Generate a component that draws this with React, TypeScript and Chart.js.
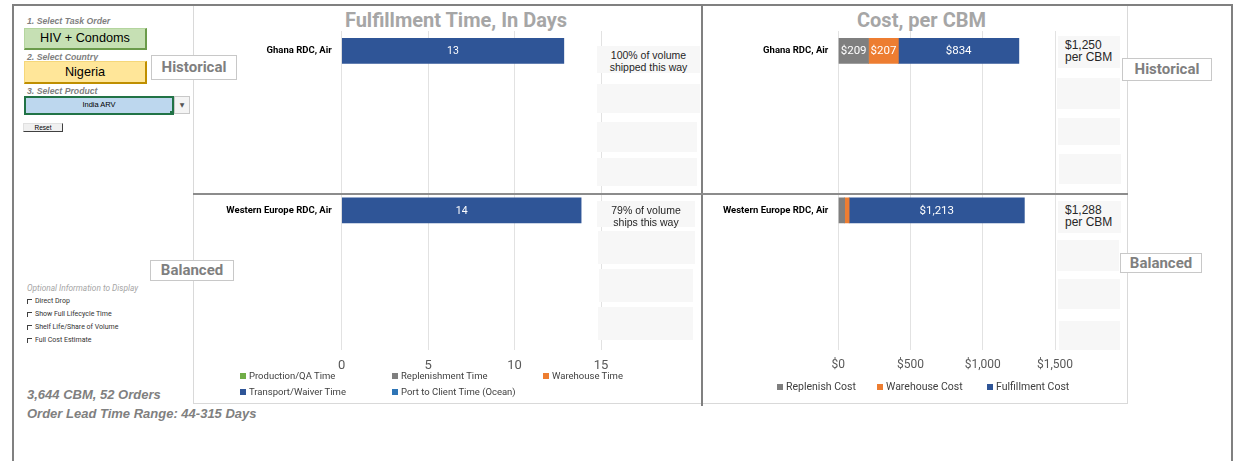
import React, { useEffect, useRef } from "react";
import { Chart, registerables } from "chart.js";

Chart.register(...registerables);

// ---------- DATA ----------
const routeCategories = ["Ghana RDC, Air", "", "", "", "Western Europe RDC, Air", "", "", ""];

const timeProduction = [null, null, null, null, null, null, null, null];
const timeReplenishment = [null, null, null, null, null, null, null, null];
const timeWarehouse = [null, null, null, null, null, null, null, null];
const timeTransport = [12.85, null, null, null, 13.85, null, null, null];
const timePortToClient = [null, null, null, null, null, null, null, null];

const costReplenish = [209, null, null, null, 44, null, null, null];
const costWarehouse = [207, null, null, null, 31, null, null, null];
const costFulfillment = [834, null, null, null, 1213, null, null, null];

const timeTicks = [0, 5, 10, 15];
const costTicks = [0, 500, 1000, 1500];

const timeSeriesNames = ["Production/QA Time", "Replenishment Time", "Warehouse Time", "Transport/Waiver Time", "Port to Client Time (Ocean)"];
const costSeriesNames = ["Replenish Cost", "Warehouse Cost", "Fulfillment Cost"];

const volumeNotes = ["100% of volume\nshipped this way", "79% of volume\nships this way"];
const costNotes = ["$1,250\nper CBM", "$1,288\nper CBM"];

const COLORS = {
  green: "#70ad47",
  gray: "#7f7f7f",
  orange: "#ed7d31",
  navy: "#2f5597",
  blue: "#2e75b6",
};

const fmtMoney = (v: number) => "$" + Math.round(v).toLocaleString("en-US");

function makeSegLabelPlugin(fmt: (v: number) => string, size: number) {
  return {
    id: "segLabels",
    afterDatasetsDraw(chart: any) {
      const ctx = chart.ctx;
      ctx.save();
      ctx.fillStyle = "#ffffff";
      ctx.font = size + "px Roboto";
      ctx.textAlign = "center";
      ctx.textBaseline = "middle";
      chart.data.datasets.forEach((ds: any, i: number) => {
        const meta = chart.getDatasetMeta(i);
        meta.data.forEach((el: any, j: number) => {
          const v = ds.data[j];
          if (!v) return;
          const p = el.getProps(["x", "y", "base"], true);
          const w = Math.abs(p.x - p.base);
          if (w < 25) return;
          ctx.fillText(fmt(v), (p.x + p.base) / 2, p.y + 0.5);
        });
      });
      ctx.restore();
    },
  };
}

function baseOptions(max: number, step: number, yWidth: number, padRight: number, tickSize: number, tickCb: (v: any) => string) {
  return {
    indexAxis: "y" as const,
    responsive: false,
    animation: false as const,
    layout: { padding: { top: 31, right: padRight, left: 0, bottom: 0 } },
    plugins: { legend: { display: false }, tooltip: { enabled: false }, title: { display: false } },
    datasets: { bar: { barThickness: 25 } },
    scales: {
      x: {
        stacked: true,
        min: 0,
        max,
        ticks: { stepSize: step, padding: 8, color: "#595959", font: { family: "Roboto", size: tickSize }, callback: tickCb, maxRotation: 0 },
        grid: { color: "#e2e2e2", drawTicks: false, lineWidth: 1 },
        border: { display: false },
        afterFit: (s: any) => {
          s.height = 30;
          s.paddingLeft = 0;
          s.paddingRight = 0;
        },
      },
      y: {
        stacked: true,
        ticks: { autoSkip: false, padding: 10, color: "#000000", font: { family: "Roboto", size: 9.5, weight: "bold" as const } },
        grid: { display: false, drawTicks: false },
        border: { display: false },
        afterFit: (s: any) => {
          s.width = yWidth;
          s.paddingTop = 0;
          s.paddingBottom = 0;
        },
      },
    },
  };
}

function TimeChart() {
  const ref = useRef<HTMLCanvasElement>(null);
  useEffect(() => {
    const series = [timeProduction, timeReplenishment, timeWarehouse, timeTransport, timePortToClient];
    const cols = [COLORS.green, COLORS.gray, COLORS.orange, COLORS.navy, COLORS.blue];
    const chart = new Chart(ref.current!, {
      type: "bar",
      data: {
        labels: routeCategories,
        datasets: series.map((d, i) => ({ label: timeSeriesNames[i], data: d as any, backgroundColor: cols[i], borderWidth: 0 })),
      },
      options: baseOptions(15, 5, 148.7, 25, 13, (v: any) => (timeTicks.includes(Number(v)) ? String(v) : "")) as any,
      plugins: [makeSegLabelPlugin((v) => String(Math.round(v)), 10.5)],
    });
    return () => chart.destroy();
  }, []);
  return <canvas ref={ref} width={433} height={380} style={{ position: "absolute", left: 193, top: 0, width: 433, height: 380 }} />;
}

function CostChart() {
  const ref = useRef<HTMLCanvasElement>(null);
  useEffect(() => {
    const series = [costReplenish, costWarehouse, costFulfillment];
    const cols = [COLORS.gray, COLORS.orange, COLORS.navy];
    const chart = new Chart(ref.current!, {
      type: "bar",
      data: {
        labels: routeCategories,
        datasets: series.map((d, i) => ({ label: costSeriesNames[i], data: d as any, backgroundColor: cols[i], borderWidth: 0 })),
      },
      options: baseOptions(1500, 500, 135.3, 30, 12, (v: any) => (costTicks.includes(Number(v)) ? fmtMoney(Number(v)) : "")) as any,
      plugins: [makeSegLabelPlugin(fmtMoney, 11.5)],
    });
    return () => chart.destroy();
  }, []);
  return <canvas ref={ref} width={382} height={380} style={{ position: "absolute", left: 703, top: 0, width: 382, height: 380 }} />;
}

const abs = (l: number, t: number, w: number, h: number, extra: React.CSSProperties = {}): React.CSSProperties => ({
  position: "absolute",
  left: l,
  top: t,
  width: w,
  height: h,
  boxSizing: "border-box",
  ...extra,
});

function NoteBox({ l, t, w, h, text, align = "center", size = 10.5 }: any) {
  return (
    <div
      style={abs(l, t, w, h, {
        background: "#f7f7f7",
        fontFamily: "'Liberation Sans', Arial",
        fontSize: size,
        color: "#262626",
        textAlign: align,
        whiteSpace: "pre-line",
        lineHeight: "12px",
        paddingTop: 3,
        paddingLeft: align === "left" ? 7 : 0,
        zIndex: 2,
      })}
    >
      {text}
    </div>
  );
}

function Tag({ l, t, w, h, text }: any) {
  return (
    <div
      style={abs(l, t, w, h, {
        background: "#fff",
        border: "1px solid #c8c8c8",
        fontFamily: "Roboto",
        fontWeight: 700,
        fontSize: 15,
        color: "#7f7f7f",
        textAlign: "center",
        lineHeight: h - 2 + "px",
        zIndex: 3,
      })}
    >
      {text}
    </div>
  );
}

function LegendItem({ l, t, color, text, size }: any) {
  return (
    <div style={{ position: "absolute", left: l, top: t, display: "flex", alignItems: "center", whiteSpace: "nowrap", zIndex: 2 }}>
      <span style={{ display: "inline-block", width: 6, height: 6, background: color, marginRight: 3 }} />
      <span style={{ fontFamily: "Roboto", fontSize: size, color: "#404040", lineHeight: "12px" }}>{text}</span>
    </div>
  );
}

const stepLabel: React.CSSProperties = {
  fontFamily: "'Liberation Sans', Arial",
  fontStyle: "italic",
  fontWeight: 700,
  fontSize: 8.7,
  color: "#7f7f7f",
  whiteSpace: "nowrap",
};

function Checkbox({ t, text }: any) {
  return (
    <div style={{ position: "absolute", left: 27, top: t, display: "flex", alignItems: "center", whiteSpace: "nowrap" }}>
      <span style={{ display: "inline-block", width: 4, height: 4, borderTop: "1px solid #404040", borderLeft: "1px solid #404040", marginRight: 3 }} />
      <span style={{ fontFamily: "Roboto", fontSize: 7, color: "#333333" }}>{text}</span>
    </div>
  );
}

export default function App() {
  return (
    <div style={{ position: "absolute", left: 0, top: 0, width: 1234, height: 461, background: "#fff", overflow: "hidden" }}>
      {/* outer frame */}
      <div style={abs(12, 4, 1221, 2, { background: "#808080" })} />
      <div style={abs(12, 4, 2, 457, { background: "#808080" })} />
      <div style={abs(1231, 4, 2, 457, { background: "#808080" })} />

      {/* chart boxes */}
      <div style={abs(193, 6, 1, 398, { background: "#d9d9d9" })} />
      <div style={abs(193, 403, 509, 1, { background: "#d9d9d9" })} />
      <div style={abs(1127, 6, 1, 398, { background: "#d9d9d9" })} />
      <div style={abs(702, 403, 426, 1, { background: "#d9d9d9" })} />

      {/* titles */}
      <div style={abs(300, 7, 312, 26, { fontFamily: "Roboto", fontWeight: 700, fontSize: 20, color: "#a6a6a6", textAlign: "center", lineHeight: "26px" })}>
        Fulfillment Time, In Days
      </div>
      <div style={abs(820, 7, 203, 26, { fontFamily: "Roboto", fontWeight: 700, fontSize: 20, color: "#a6a6a6", textAlign: "center", lineHeight: "26px" })}>
        Cost, per CBM
      </div>

      <TimeChart />
      <CostChart />

      {/* dividers */}
      <div style={abs(701, 4, 2, 402, { background: "#808080", zIndex: 4 })} />
      <div style={abs(193, 193, 935, 2, { background: "#8c8c8c", zIndex: 4 })} />

      {/* fulfillment notes */}
      <NoteBox l={597} t={46} w={103} h={27} text={volumeNotes[0]} />
      <NoteBox l={597} t={84} w={103} h={29} text="" />
      <NoteBox l={597} t={122} w={100} h={30} text="" />
      <NoteBox l={597} t={158} w={100} h={28} text="" />
      <NoteBox l={597} t={201} w={98} h={26} text={volumeNotes[1]} />
      <NoteBox l={598} t={231} w={97} h={33} text="" />
      <NoteBox l={599} t={269} w={94} h={33} text="" />
      <NoteBox l={598} t={307} w={95} h={33} text="" />

      {/* cost notes */}
      <NoteBox l={1058} t={36} w={62} h={32} text={costNotes[0]} align="left" size={12} />
      <NoteBox l={1057} t={78} w={63} h={31} text="" />
      <NoteBox l={1058} t={118} w={62} h={27} text="" />
      <NoteBox l={1059} t={154} w={62} h={30} text="" />
      <NoteBox l={1058} t={201} w={63} h={32} text={costNotes[1]} align="left" size={12} />
      <NoteBox l={1057} t={240} w={62} h={31} text="" />
      <NoteBox l={1058} t={279} w={62} h={30} text="" />
      <NoteBox l={1059} t={321} w={61} h={29} text="" />

      {/* tags */}
      <Tag l={151} t={55} w={86} h={25} text="Historical" />
      <Tag l={150} t={260} w={84} h={21} text="Balanced" />
      <Tag l={1122} t={58} w={90} h={23} text="Historical" />
      <Tag l={1120} t={253} w={82} h={20} text="Balanced" />

      {/* legends */}
      <LegendItem l={240} t={370} color={COLORS.green} text={timeSeriesNames[0]} size={9.5} />
      <LegendItem l={392} t={370} color={COLORS.gray} text={timeSeriesNames[1]} size={9.5} />
      <LegendItem l={543} t={370} color={COLORS.orange} text={timeSeriesNames[2]} size={9.5} />
      <LegendItem l={240} t={386} color={COLORS.navy} text={timeSeriesNames[3]} size={9.5} />
      <LegendItem l={392} t={386} color={COLORS.blue} text={timeSeriesNames[4]} size={9.5} />

      <LegendItem l={777} t={381} color={COLORS.gray} text={costSeriesNames[0]} size={10.5} />
      <LegendItem l={877} t={381} color={COLORS.orange} text={costSeriesNames[1]} size={10.5} />
      <LegendItem l={987} t={381} color={COLORS.navy} text={costSeriesNames[2]} size={10.5} />

      {/* left control panel */}
      <div style={{ ...stepLabel, position: "absolute", left: 27, top: 16 }}>1. Select Task Order</div>
      <div
        style={abs(24, 28, 123, 22, {
          background: "#c6e0b4",
          borderTop: "1px solid #b4d59e",
          borderLeft: "1px solid #b4d59e",
          borderRight: "2px solid #6b9b4b",
          borderBottom: "2px solid #6b9b4b",
          fontFamily: "'Liberation Sans', Arial",
          fontSize: 12.7,
          textAlign: "center",
          lineHeight: "19px",
          color: "#000",
        })}
      >
        HIV + Condoms
      </div>
      <div style={{ ...stepLabel, position: "absolute", left: 27, top: 52 }}>2. Select Country</div>
      <div
        style={abs(24, 61, 123, 23, {
          background: "#ffe699",
          borderTop: "1px solid #f5d77a",
          borderLeft: "1px solid #f5d77a",
          borderRight: "2px solid #bf8f00",
          borderBottom: "2px solid #bf8f00",
          fontFamily: "'Liberation Sans', Arial",
          fontSize: 12.7,
          textAlign: "center",
          lineHeight: "21px",
          color: "#000",
        })}
      >
        Nigeria
      </div>
      <div style={{ ...stepLabel, position: "absolute", left: 27, top: 86 }}>3. Select Product</div>
      <div
        style={abs(24, 96, 150, 19, {
          background: "#bdd7ee",
          border: "2px solid #217346",
          fontFamily: "'Liberation Sans', Arial",
          fontSize: 7.5,
          textAlign: "center",
          lineHeight: "14px",
          color: "#000",
        })}
      >
        India ARV
      </div>
      <div style={abs(170, 111, 4, 4, { background: "#217346" })} />
      <div
        style={abs(174, 96, 16, 18, {
          background: "#f4f4f4",
          border: "1px solid #c8c8c8",
          fontSize: 6,
          color: "#555",
          textAlign: "center",
          lineHeight: "16px",
          fontFamily: "'DejaVu Sans'",
        })}
      >
        ▼
      </div>
      <div
        style={abs(23, 123, 40, 9, {
          background: "#f0f0f0",
          borderTop: "1px solid #e0e0e0",
          borderLeft: "1px solid #e0e0e0",
          borderRight: "1px solid #404040",
          borderBottom: "1px solid #404040",
          fontFamily: "'Liberation Sans', Arial",
          fontSize: 6.5,
          textAlign: "center",
          lineHeight: "7px",
          color: "#000",
        })}
      >
        Reset
      </div>

      <div style={{ position: "absolute", left: 27, top: 283, fontFamily: "Roboto", fontStyle: "italic", fontSize: 8.3, color: "#a6a6a6", whiteSpace: "nowrap" }}>
        Optional Information to Display
      </div>
      <Checkbox t={297} text="Direct Drop" />
      <Checkbox t={310} text="Show Full Lifecycle Time" />
      <Checkbox t={323} text="Shelf Life/Share of Volume" />
      <Checkbox t={336} text="Full Cost Estimate" />

      <div
        style={{
          position: "absolute",
          left: 27,
          top: 385,
          fontFamily: "'Liberation Sans', Arial",
          fontStyle: "italic",
          fontWeight: 700,
          fontSize: 13,
          color: "#808080",
          whiteSpace: "nowrap",
          lineHeight: "19px",
        }}
      >
        3,644 CBM, 52 Orders
        <br />
        Order Lead Time Range: 44-315 Days
      </div>
    </div>
  );
}
